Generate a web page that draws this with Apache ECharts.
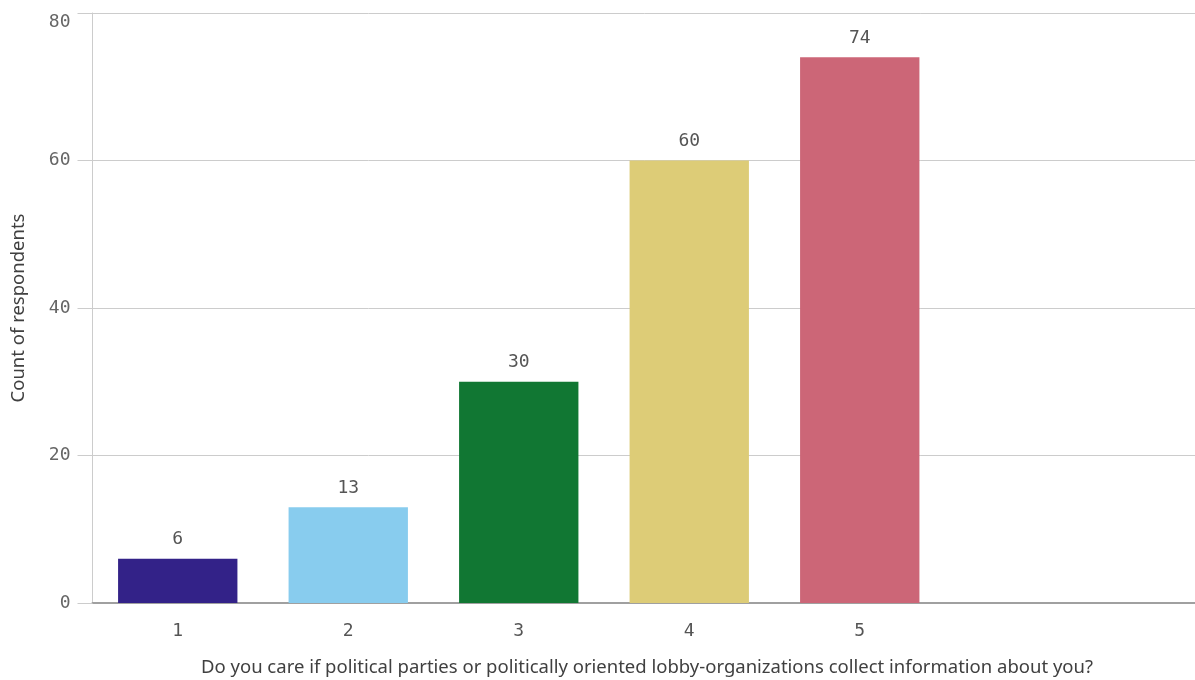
<!DOCTYPE html>
<html>
<head>
<meta charset="utf-8">
<script src="https://cdn.jsdelivr.net/npm/echarts@6/dist/echarts.min.js"></script>
<style>html,body{margin:0;padding:0;background:#fff}#c{width:1195px;height:680px}</style>
</head>
<body>
<div id="c"></div>
<script>
const categories = ['1', '2', '3', '4', '5', '', ''];
const values = [6, 13, 30, 60, 74];
const colors = ['#332288', '#88CCEE', '#117733', '#DDCC77', '#CC6677'];
const yTicks = [0, 20, 40, 60, 80];
const xTitle = 'Do you care if political parties or politically oriented lobby-organizations collect information about you?';
const yTitle = 'Count of respondents';

const chart = echarts.init(document.getElementById('c'), null, {renderer: 'canvas'});
const mono = 'DejaVu Sans Mono';
const yMax = yTicks[yTicks.length - 1];
chart.setOption({
  animation: false,
  grid: {left: 92.5, width: 1193.5, top: 13, bottom: 77, containLabel: false, outerBoundsMode: 'none'},
  xAxis: {
    type: 'category',
    data: categories,
    axisLine: {show: true, lineStyle: {color: '#a0a0a0', width: 2}},
    axisTick: {show: false},
    axisLabel: {color: '#555', fontFamily: mono, fontSize: 18, margin: 19},
    splitLine: {show: false}
  },
  yAxis: {
    type: 'value',
    min: yTicks[0],
    max: yMax,
    interval: 20,
    name: yTitle,
    nameLocation: 'middle',
    nameGap: 64,
    nameTextStyle: {color: '#404040', fontFamily: 'Noto Sans', fontSize: 18.5},
    axisLine: {show: true, lineStyle: {color: '#cccccc', width: 1}},
    axisTick: {show: true, length: 15, lineStyle: {color: '#cccccc'}},
    axisLabel: {
      color: '#666', fontFamily: mono, fontSize: 18, margin: 22,
      formatter: v => v === yMax ? '{top|' + v + '}' : String(v),
      rich: {top: {color: '#666', fontFamily: mono, fontSize: 18, padding: [18, 0, 0, 0]}}
    },
    splitLine: {show: true, lineStyle: {color: '#cccccc', width: 1}}
  },
  graphic: [{
    type: 'text',
    x: 647, y: 668,
    style: {text: xTitle, fill: '#404040', font: '18.5px "Noto Sans"', align: 'center', verticalAlign: 'middle'}
  }],
  series: [{
    type: 'bar',
    data: values.map((v, i) => ({value: v, itemStyle: {color: colors[i]}})),
    barCategoryGap: '30%',
    label: {show: true, position: 'top', distance: 10, color: '#555', fontFamily: mono, fontSize: 18}
  }]
});
</script>
</body>
</html>
